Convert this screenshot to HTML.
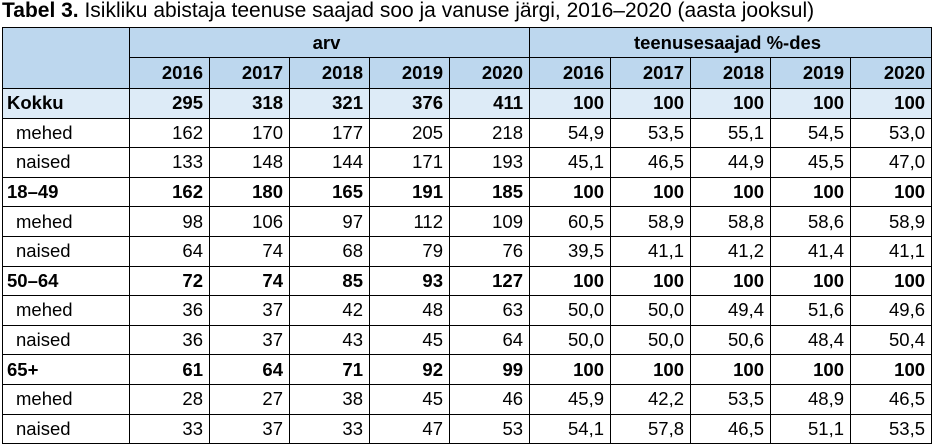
<!DOCTYPE html>
<html><head><meta charset="utf-8"><style>
body{margin:0;width:933px;height:447px;background:#fff;font-family:"Liberation Sans",Arial,sans-serif;position:relative;overflow:hidden;color:#000}
.t{position:absolute;left:2px;top:-1px;font-size:21px;line-height:24px;white-space:nowrap}
table{position:absolute;left:2px;top:27px;border-collapse:collapse;table-layout:fixed;width:929px;font-size:18.5px}
td{border:1px solid #000;padding:0 6px 0 0;text-align:right;white-space:nowrap;overflow:hidden;height:28.6px;line-height:20px}
td.l{text-align:left;padding-left:13px}
td.b{text-align:left;padding-left:4px;font-weight:bold}
.h td{background:#bdd7ee;font-weight:bold}
.h td.c{text-align:center}
.k td{background:#ddebf7;font-weight:bold}
tr.bb td{font-weight:bold}
tr.h1 td{height:29px}tr.h2 td{height:30px}
</style></head><body>
<div class="t"><b>Tabel 3.</b> Isikliku abistaja teenuse saajad soo ja vanuse järgi, 2016–2020 (aasta jooksul)</div>
<table>
<colgroup><col style="width:127px"><col style="width:80px"><col style="width:80px"><col style="width:80px"><col style="width:80px"><col style="width:80px"><col style="width:81px"><col style="width:80px"><col style="width:80px"><col style="width:80px"><col style="width:81px"></colgroup>
<tr class="h h1"><td rowspan="2"></td><td colspan="5" class="c">arv</td><td colspan="5" class="c">teenusesaajad %-des</td></tr>
<tr class="h h2"><td>2016</td><td>2017</td><td>2018</td><td>2019</td><td>2020</td><td>2016</td><td>2017</td><td>2018</td><td>2019</td><td>2020</td></tr>
<tr class="k"><td class="b">Kokku</td><td>295</td><td>318</td><td>321</td><td>376</td><td>411</td><td>100</td><td>100</td><td>100</td><td>100</td><td>100</td></tr>
<tr><td class="l">mehed</td><td>162</td><td>170</td><td>177</td><td>205</td><td>218</td><td>54,9</td><td>53,5</td><td>55,1</td><td>54,5</td><td>53,0</td></tr>
<tr><td class="l">naised</td><td>133</td><td>148</td><td>144</td><td>171</td><td>193</td><td>45,1</td><td>46,5</td><td>44,9</td><td>45,5</td><td>47,0</td></tr>
<tr class="bb"><td class="b">18–49</td><td>162</td><td>180</td><td>165</td><td>191</td><td>185</td><td>100</td><td>100</td><td>100</td><td>100</td><td>100</td></tr>
<tr><td class="l">mehed</td><td>98</td><td>106</td><td>97</td><td>112</td><td>109</td><td>60,5</td><td>58,9</td><td>58,8</td><td>58,6</td><td>58,9</td></tr>
<tr><td class="l">naised</td><td>64</td><td>74</td><td>68</td><td>79</td><td>76</td><td>39,5</td><td>41,1</td><td>41,2</td><td>41,4</td><td>41,1</td></tr>
<tr class="bb"><td class="b">50–64</td><td>72</td><td>74</td><td>85</td><td>93</td><td>127</td><td>100</td><td>100</td><td>100</td><td>100</td><td>100</td></tr>
<tr><td class="l">mehed</td><td>36</td><td>37</td><td>42</td><td>48</td><td>63</td><td>50,0</td><td>50,0</td><td>49,4</td><td>51,6</td><td>49,6</td></tr>
<tr><td class="l">naised</td><td>36</td><td>37</td><td>43</td><td>45</td><td>64</td><td>50,0</td><td>50,0</td><td>50,6</td><td>48,4</td><td>50,4</td></tr>
<tr class="bb"><td class="b">65+</td><td>61</td><td>64</td><td>71</td><td>92</td><td>99</td><td>100</td><td>100</td><td>100</td><td>100</td><td>100</td></tr>
<tr><td class="l">mehed</td><td>28</td><td>27</td><td>38</td><td>45</td><td>46</td><td>45,9</td><td>42,2</td><td>53,5</td><td>48,9</td><td>46,5</td></tr>
<tr><td class="l">naised</td><td>33</td><td>37</td><td>33</td><td>47</td><td>53</td><td>54,1</td><td>57,8</td><td>46,5</td><td>51,1</td><td>53,5</td></tr>
</table>
</body></html>
